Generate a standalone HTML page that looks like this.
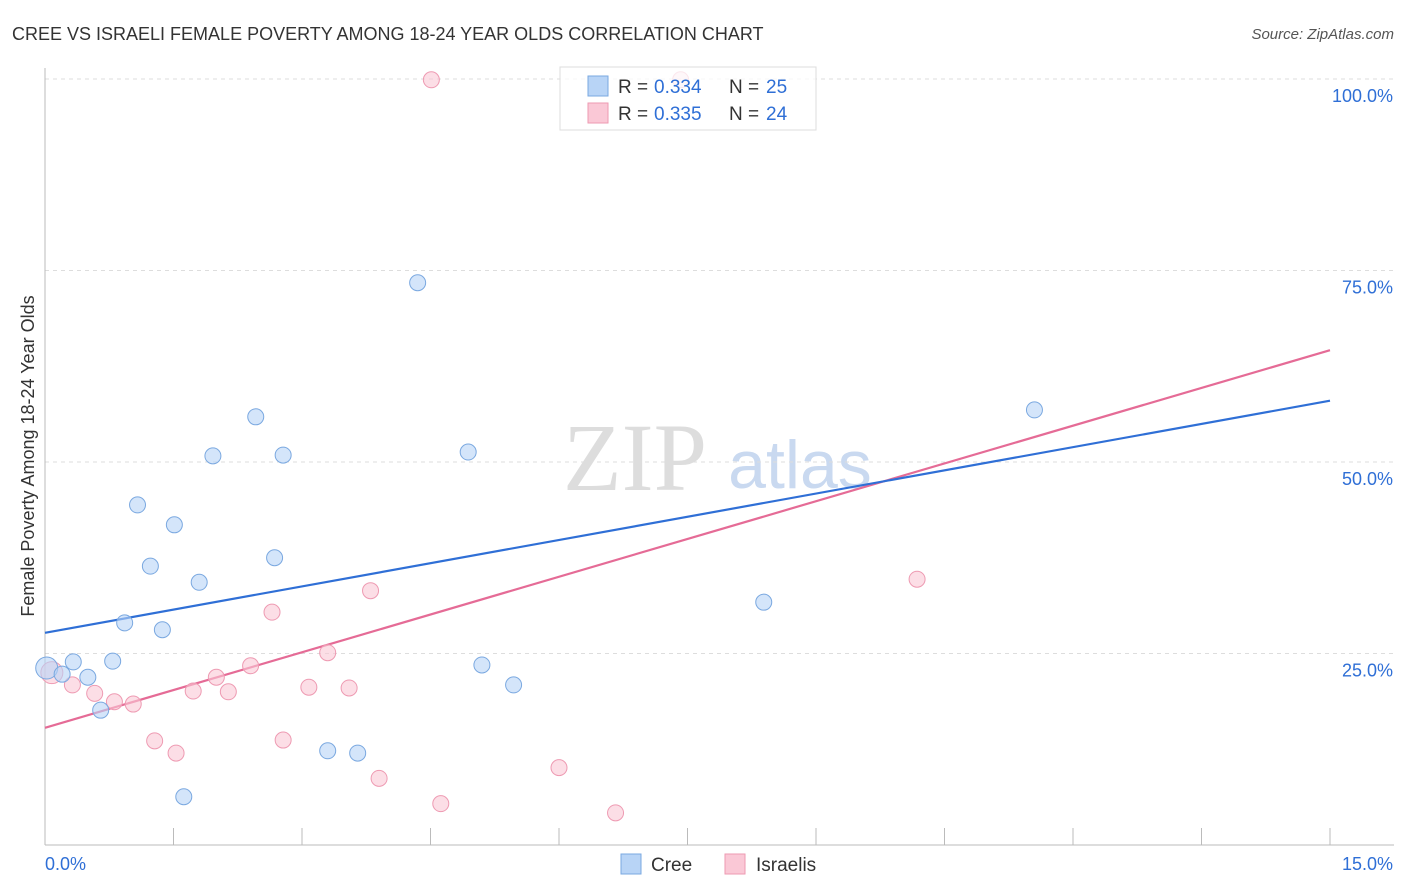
<!DOCTYPE html>
<html><head><meta charset="utf-8"><style>
body{margin:0;background:#fff;font-family:"Liberation Sans",sans-serif;}
svg{display:block}
</style></head><body>
<svg width="1406" height="892" xmlns="http://www.w3.org/2000/svg">
<text x="12" y="40" font-size="18" fill="#333">CREE VS ISRAELI FEMALE POVERTY AMONG 18-24 YEAR OLDS CORRELATION CHART</text>
<text x="1394" y="39" font-size="15" fill="#555" font-style="italic" text-anchor="end">Source: ZipAtlas.com</text>
<g>
<text x="635" y="490" font-size="96" font-family="Liberation Serif,serif" fill="#ddd" text-anchor="middle">ZIP</text>
<text x="800" y="488" font-size="68" fill="#c9d9f0" text-anchor="middle">atlas</text>
</g>
<g id="grid"></g>
<g id="axes"></g>
<g id="lines"></g>
<g id="points"></g>
<text transform="translate(34,456) rotate(-90)" font-size="18" fill="#333" text-anchor="middle">Female Poverty Among 18-24 Year Olds</text>
<g>
<rect x="560" y="67" width="256" height="63" fill="#fff" fill-opacity="0.75" stroke="#ddd"/>
<rect x="588" y="76" width="20" height="20" fill="#b8d4f6" stroke="#7aa8e0"/>
<rect x="588" y="103" width="20" height="20" fill="#fac8d6" stroke="#ee9ab2"/>
<text x="618" y="93" font-size="19" fill="#333">R =</text>
<text x="654" y="93" font-size="19" fill="#2f6fd6">0.334</text>
<text x="729" y="93" font-size="19" fill="#333">N =</text>
<text x="766" y="93" font-size="19" fill="#2f6fd6">25</text>
<text x="618" y="120" font-size="19" fill="#333">R =</text>
<text x="654" y="120" font-size="19" fill="#2f6fd6">0.335</text>
<text x="729" y="120" font-size="19" fill="#333">N =</text>
<text x="766" y="120" font-size="19" fill="#2f6fd6">24</text>
</g>
<g>
<rect x="621" y="854" width="20" height="20" fill="#b8d4f6" stroke="#7aa8e0"/>
<text x="651" y="871" font-size="19" fill="#333">Cree</text>
<rect x="725" y="854" width="20" height="20" fill="#fac8d6" stroke="#ee9ab2"/>
<text x="756" y="871" font-size="19" fill="#333">Israelis</text>
</g>
</svg>
<script>
const xTicks=[0,1.5,3,4.5,6,7.5,9,10.5,12,13.5,15];
const yTicks=[25,50,75,100];
const yTickLabels=["25.0%","50.0%","75.0%","100.0%"];
const xEndLabels=["0.0%","15.0%"];
const creeX=[0.02,0.2,0.33,0.5,0.65,0.79,0.93,1.08,1.23,1.37,1.51,1.62,1.80,1.96,2.46,2.68,2.78,3.30,3.65,4.35,4.94,5.10,5.47,8.39,11.55];
const creeY=[23.1,22.3,23.9,21.9,17.6,24.0,29.0,44.4,36.4,28.1,41.8,6.3,34.3,50.8,55.9,37.5,50.9,12.3,12.0,73.4,51.3,23.5,20.9,31.7,56.8];
const isrX=[0.08,0.32,0.58,0.81,1.03,1.28,1.53,1.73,2.0,2.14,2.40,2.65,2.78,3.08,3.30,3.55,3.80,3.90,4.51,4.62,6.0,6.66,7.42,10.18];
const isrY=[22.5,20.9,19.8,18.7,18.4,13.6,12.0,20.1,21.9,20.0,23.4,30.4,13.7,20.6,25.1,20.5,33.2,8.7,99.9,5.4,10.1,4.2,99.9,34.7];
const creeTrend=[27.7,58.0];
const isrTrend=[15.3,64.6];
const NS="http://www.w3.org/2000/svg";
const X=v=>45+v/15*1285, Y=v=>845-v*7.66;
function mk(p,t,a){const e=document.createElementNS(NS,t);for(const k in a)e.setAttribute(k,a[k]);const par=document.getElementById(p);par.appendChild(e);return e;}
yTicks.forEach((t,i)=>{
 const l=mk('grid','line',{x1:45,x2:1394,y1:Y(t),y2:Y(t),stroke:'#ddd','stroke-dasharray':'4,4'});
 
 
 const tx=mk('axes','text',{x:1393,y:Y(t)+23,'font-size':18,fill:'#2f6fd6','text-anchor':'end'});
 tx.textContent=yTickLabels[i];
 
 
});
const ax=mk('axes','line',{x1:45,x2:1394,y1:845,y2:845,stroke:'#bbb'});


const ay=mk('axes','line',{x1:45,x2:45,y1:68,y2:845,stroke:'#bbb'});


xTicks.forEach(t=>{
 const l=mk('axes','line',{x1:X(t),x2:X(t),y1:828,y2:845,stroke:'#bbb'});
 
 
});
const xl0=mk('axes','text',{x:45,y:870,'font-size':18,fill:'#2f6fd6'});xl0.textContent=xEndLabels[0];


const xl1=mk('axes','text',{x:1393,y:870,'font-size':18,fill:'#2f6fd6','text-anchor':'end'});xl1.textContent=xEndLabels[1];


function pts(xs,ys,fill,stroke,name){xs.forEach((x,i)=>{
 const c=mk('points','circle',{cx:X(x),cy:Y(ys[i]),r:i===0?11:8,fill:fill,'fill-opacity':0.6,stroke:stroke,'stroke-width':1});
 
 
});}
pts(isrX,isrY,'#fac8d6','#ee9ab2','israelis-point');
pts(creeX,creeY,'#b8d4f6','#7aa8e0','cree-point');
const tl1=mk('lines','line',{x1:X(0),y1:Y(isrTrend[0]),x2:X(15),y2:Y(isrTrend[1]),stroke:'#e56b96','stroke-width':2.2});


const tl2=mk('lines','line',{x1:X(0),y1:Y(creeTrend[0]),x2:X(15),y2:Y(creeTrend[1]),stroke:'#2f6fd6','stroke-width':2.2});


</script>
</body></html>
